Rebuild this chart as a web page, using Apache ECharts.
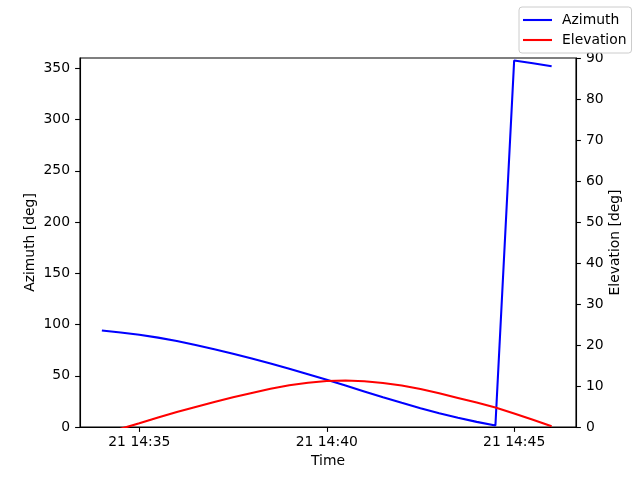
<!DOCTYPE html>
<html><head><meta charset="utf-8">
<script src="https://cdn.jsdelivr.net/npm/echarts@6/dist/echarts.min.js"></script>
<style>html,body{margin:0;padding:0;background:#fff}#c{width:640px;height:480px}</style>
</head><body><div id="c"></div>
<script>
const dateStr = '2024-01-21';
const times = ['14:34:00','14:34:30','14:35:00','14:35:30','14:36:00','14:36:30','14:37:00','14:37:30','14:38:00','14:38:30','14:39:00','14:39:30','14:40:00','14:40:30','14:41:00','14:41:30','14:42:00','14:42:30','14:43:00','14:43:30','14:44:00','14:44:30','14:45:00','14:45:30','14:46:00'];
const azimuth = [94.2,92.2,90.0,87.2,84.0,80.0,75.8,71.5,66.9,62.0,56.9,51.5,46.1,40.4,34.7,29.0,23.6,18.4,13.4,9.0,5.0,1.5,357.5,354.8,352.0];
const elevation = [-1.8,-0.45,0.9,2.3,3.65,4.9,6.1,7.25,8.3,9.35,10.2,10.8,11.2,11.33,11.15,10.75,10.1,9.25,8.25,7.1,5.95,4.75,3.3,1.75,0.2];
const xTicks = ['14:35:00','14:40:00','14:45:00'];
const xRange = ['14:33:25','14:46:39'];
const azTicks = [0,50,100,150,200,250,300,350];
const elTicks = [0,10,20,30,40,50,60,70,80,90];

function toMs(t){
  const [h,m,s] = t.split(':').map(Number);
  const [Y,M,D] = dateStr.split('-').map(Number);
  return Date.UTC(Y,M-1,D,h,m,s);
}
function fmt(v){
  const d = new Date(v);
  const p = n => String(n).padStart(2,'0');
  return d.getUTCDate()+' '+p(d.getUTCHours())+':'+p(d.getUTCMinutes());
}
const font = 'DejaVu Sans';
const fs = 13.9;
const axisCommon = {
  axisLine:{show:true,lineStyle:{color:'#000',width:1.1}},
  axisTick:{show:true,inside:false,length:4.9,lineStyle:{color:'#000',width:1.1}},
  splitLine:{show:false},
  nameMoveOverlap:false,
  nameTextStyle:{fontFamily:font,fontSize:fs,color:'#000'}
};
const chart = echarts.init(document.getElementById('c'),null,{renderer:'canvas'});
chart.setOption({
  animation:false,
  backgroundColor:'#fff',
  textStyle:{fontFamily:font},
  grid:{left:80,right:64,top:58,bottom:53,show:true,borderColor:'#000',borderWidth:1.1,backgroundColor:'transparent'},
  legend:{
    orient:'vertical',left:519,top:7,
    icon:'rect',
    itemWidth:29,itemHeight:2.1,itemGap:4,
    padding:[5,5,5,4],
    borderColor:'#cccccc',borderWidth:1,borderRadius:3,backgroundColor:'rgba(255,255,255,0.8)',
    textStyle:{fontFamily:font,fontSize:fs,color:'#000',padding:[0,0,0,5],lineHeight:16},
    data:['Azimuth','Elevation']
  },
  xAxis:Object.assign({},axisCommon,{
    type:'value',min:toMs(xRange[0]),max:toMs(xRange[1]),
    name:'Time',nameLocation:'middle',nameGap:27,
    axisTick:Object.assign({},axisCommon.axisTick,{customValues:xTicks.map(toMs)}),
    axisLabel:{customValues:xTicks.map(toMs),formatter:fmt,fontFamily:font,fontSize:fs,color:'#000',margin:8}
  }),
  yAxis:[
    Object.assign({},axisCommon,{
      type:'value',min:0,max:360,position:'left',
      name:'Azimuth [deg]',nameLocation:'middle',nameGap:43,
      axisTick:Object.assign({},axisCommon.axisTick,{customValues:azTicks}),
      axisLabel:{customValues:azTicks,fontFamily:font,fontSize:fs,color:'#000',margin:10}
    }),
    Object.assign({},axisCommon,{
      type:'value',min:0,max:90,position:'right',
      name:'Elevation [deg]',nameLocation:'middle',nameGap:32,
      axisTick:Object.assign({},axisCommon.axisTick,{customValues:elTicks}),
      axisLabel:{customValues:elTicks,fontFamily:font,fontSize:fs,color:'#000',margin:10}
    })
  ],
  series:[
    {name:'Azimuth',type:'line',yAxisIndex:0,symbol:'none',clip:true,
     lineStyle:{color:'#0000ff',width:2.08},itemStyle:{color:'#0000ff'},
     data:times.map((t,i)=>[toMs(t),azimuth[i]])},
    {name:'Elevation',type:'line',yAxisIndex:1,symbol:'none',clip:true,
     lineStyle:{color:'#ff0000',width:2.08},itemStyle:{color:'#ff0000'},
     data:times.map((t,i)=>[toMs(t),elevation[i]])}
  ]
});
</script></body></html>
